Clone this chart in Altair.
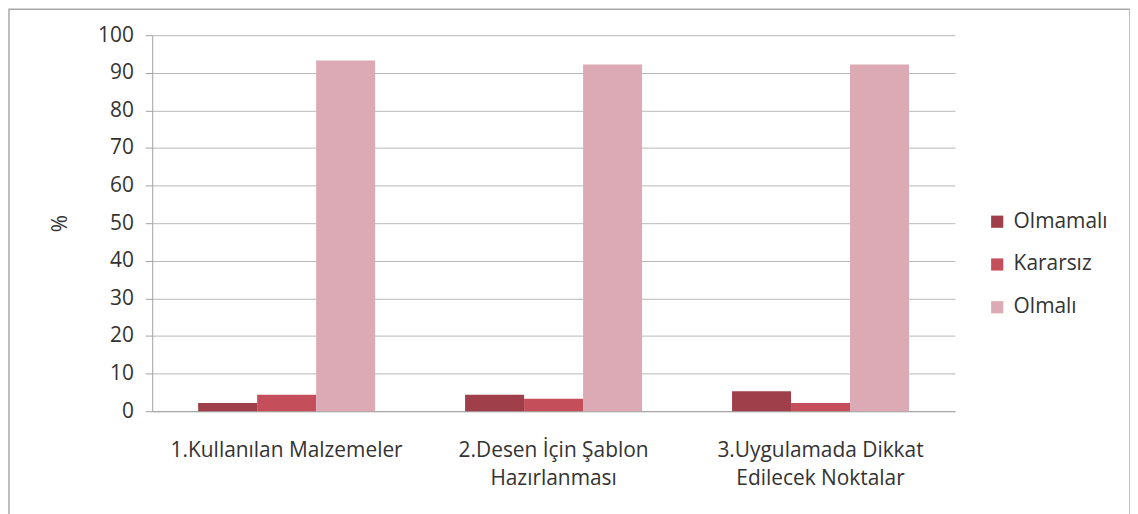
import altair as alt
import pandas as pd

categories = ["1.Kullanılan Malzemeler", "2.Desen İçin Şablon Hazırlanması", "3.Uygulamada Dikkat Edilecek Noktalar"]
label_lines = [["1.Kullanılan Malzemeler"], ["2.Desen İçin Şablon", "Hazırlanması"], ["3.Uygulamada Dikkat", "Edilecek Noktalar"]]
series = ["Olmamalı", "Kararsız", "Olmalı"]
olmamali = [2.2, 4.4, 5.3]
kararsiz = [4.4, 3.3, 2.2]
olmali = [93.3, 92.2, 92.2]
colors = ["#9e3f4a", "#c44f5a", "#dcaab4"]
y_ticks = list(range(0, 101, 10))

rows = []
for i, c in enumerate(categories):
    for s, vals in zip(series, [olmamali, kararsiz, olmali]):
        rows.append({"kategori": c, "seri": s, "deger": vals[i]})
df = pd.DataFrame(rows)

expr_parts = []
for c, lines in zip(categories, label_lines):
    arr = "[" + ",".join("'" + l + "'" for l in lines) + "]"
    expr_parts.append(f"datum.label == '{c}' ? {arr}")
label_expr = " : ".join(expr_parts) + " : datum.label"

FONT = "Open Sans"
FS = 21

bars = alt.Chart(df).mark_bar().encode(
    x=alt.X("kategori:N", sort=categories, title=None,
            scale=alt.Scale(paddingInner=0.337, paddingOuter=0.172),
            axis=alt.Axis(labelExpr=label_expr, labelAngle=0, ticks=False,
                          labelPadding=29, labelBaseline="top", labelLineHeight=28,
                          labelFontSize=FS, labelColor="#333333", labelFont=FONT,
                          domainColor="#a0a0a0", labelLimit=400)),
    xOffset=alt.XOffset("seri:N", sort=series),
    y=alt.Y("deger:Q", title="%", scale=alt.Scale(domain=[0, 100]),
            axis=alt.Axis(values=y_ticks, tickSize=7, tickColor="#a0a0a0",
                          domainColor="#a0a0a0", gridColor="#b8b8b8",
                          labelFontSize=FS, labelColor="#333333", labelFont=FONT,
                          labelPadding=12, titleFontSize=FS, titleFont=FONT,
                          titleFontWeight="normal", titleColor="#333333",
                          titlePadding=27, titleAngle=270)),
    color=alt.Color("seri:N", sort=series, title=None,
                    scale=alt.Scale(domain=series, range=colors),
                    legend=alt.Legend(orient="none", legendX=839, legendY=177,
                                      symbolType="square", symbolSize=150,
                                      symbolStrokeWidth=0, labelFontSize=FS,
                                      labelFont=FONT, labelColor="#333333",
                                      rowPadding=21, labelOffset=6)),
)

frame = alt.Chart(pd.DataFrame({"k": [0]})).mark_rect(
    fill=None, stroke="#a8a8a8", strokeWidth=1.5
).encode(x=alt.value(-144), x2=alt.value(983), y=alt.value(-26), y2=alt.value(560))

chart = alt.layer(frame, bars).properties(
    width=807, height=378,
    autosize=alt.AutoSizeParams(type="none"),
    padding={"left": 145, "top": 26, "right": 176, "bottom": 102},
).configure_view(stroke=None).configure_axisX(grid=False)

chart.save("out.html", embed_options={"renderer": "svg", "actions": False})
